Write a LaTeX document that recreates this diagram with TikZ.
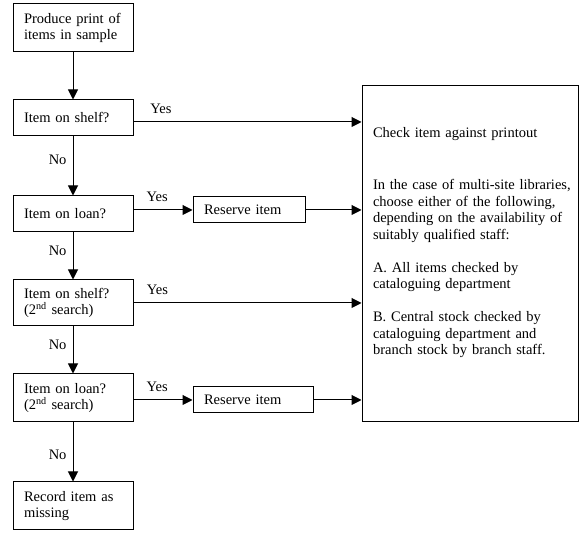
\documentclass[tikz,border=0pt]{standalone}
\usepackage{fontspec}
\setmainfont{Liberation Serif}
\usetikzlibrary{arrows.meta,positioning}

\begin{document}
\begin{tikzpicture}[x=1pt,y=1pt,->,>={Triangle[length=10pt,width=10pt]},line width=1pt,
    font=\fontsize{14.5}{16.5}\selectfont]
  \tikzstyle{stepbox}=[draw=black,->,align=left,inner xsep=11pt,inner ysep=2pt,
    text width=98pt,minimum width=120pt]
  \tikzstyle{yes}=[above=8pt,inner sep=0pt]
  \tikzstyle{no}=[left=6pt,inner sep=0pt]
  \useasboundingbox (0,0) rectangle (587,546);

  \node[stepbox,minimum height=48pt] (print) at (73,518) {Produce print of\\items in sample};
  \node[stepbox,minimum height=36pt] (shelf) [below=47pt of print] {Item on shelf?};
  \node[stepbox,minimum height=36pt] (loan) [below=59pt of shelf] {Item on loan?};
  \node[stepbox,minimum height=46pt] (shelf2) [below=47pt of loan] {Item on shelf?\\(2\textsuperscript{nd} search)};
  \node[stepbox,minimum height=48pt] (loan2) [below=47pt of shelf2] {Item on loan?\\(2\textsuperscript{nd} search)};
  \node[stepbox,minimum height=48pt] (missing) [below=59pt of loan2] {Record item as\\missing};
  \node[stepbox,text width=90pt,minimum width=112pt,minimum height=26pt] (reserve) [right=59pt of loan,yshift=4pt] {Reserve item};
  \node[stepbox,minimum height=26pt] (reserve2) [right=59pt of loan2,yshift=-2pt] {Reserve item};
  \node[draw=black,minimum width=216pt,minimum height=336pt] (check) at (470,292) {};
  \node[anchor=north west,align=left,text width=200pt,inner sep=0pt] (checktext)
    at ([xshift=11pt,yshift=-41pt]check.north west)
    {Check item against printout\\[36pt]
     In the case of multi-site libraries,\\
     choose either of the following,\\
     depending on the availability of\\
     suitably qualified staff:\\[16.5pt]
     A.\ All items checked by\\
     cataloguing department\\[16.5pt]
     B. Central stock checked by\\
     cataloguing department and\\
     branch stock by branch staff.};

  \path
  (print) edge (shelf)
  (shelf) edge node[no,pos=.4] {No} (loan)
  (loan) edge node[no,pos=.4] {No} (shelf2)
  (shelf2) edge node[no,pos=.4] {No} (loan2)
  (loan2) edge node[no,pos=.55] {No} (missing)
  ([yshift=-4pt]shelf.east) edge node[yes,pos=.12] {Yes} ([yshift=-4pt]shelf.east -| check.west)
  (loan.east |- reserve) edge node[yes,pos=.4] {Yes} (reserve)
  (reserve) edge (reserve -| check.west)
  (shelf2) edge node[yes,pos=.105] {Yes} (shelf2 -| check.west)
  (loan2.east |- reserve2) edge node[yes,pos=.4] {Yes} (reserve2)
  (reserve2) edge (reserve2 -| check.west);
\end{tikzpicture}
\end{document}
